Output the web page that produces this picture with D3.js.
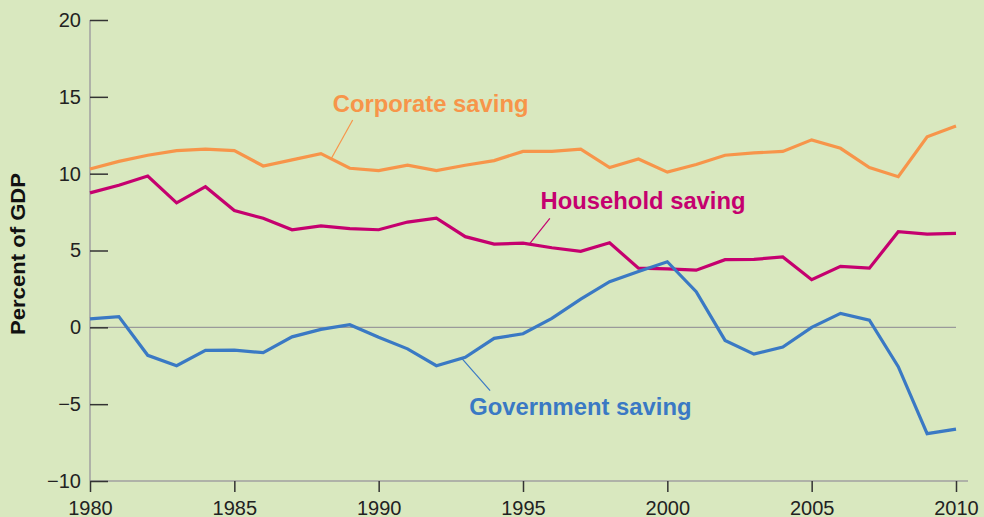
<!DOCTYPE html>
<html>
<head>
<meta charset="utf-8">
<script src="https://cdn.jsdelivr.net/npm/d3@7"></script>
<style>
  html, body { margin: 0; padding: 0; background: #D9E8BF; }
  svg { display: block; font-family: "Liberation Sans", Arial, Helvetica, sans-serif; }
</style>
</head>
<body>
<svg id="chart" width="984" height="517"></svg>
<script>
// U.S. saving by sector, percent of GDP
const years = d3.range(1980, 2011);
const corporateSaving = [10.3, 10.8, 11.2, 11.5, 11.6, 11.5, 10.5, 10.9, 11.3, 10.35, 10.2,
  10.55, 10.2, 10.55, 10.85, 11.45, 11.45, 11.6, 10.4, 10.95, 10.1,
  10.6, 11.2, 11.35, 11.45, 12.2, 11.65, 10.4, 9.8, 12.4, 13.1];
const householdSaving = [8.75, 9.25, 9.85, 8.1, 9.15, 7.6, 7.1, 6.35, 6.6, 6.42, 6.35,
  6.85, 7.1, 5.9, 5.42, 5.48, 5.18, 4.95, 5.5, 3.85, 3.8,
  3.72, 4.4, 4.42, 4.58, 3.1, 3.97, 3.85, 6.22, 6.07, 6.12];
const governmentSaving = [0.55, 0.7, -1.82, -2.5, -1.5, -1.48, -1.65, -0.62, -0.13, 0.17, -0.65,
  -1.4, -2.5, -1.95, -0.72, -0.42, 0.58, 1.84, 2.97, 3.64, 4.27,
  2.32, -0.85, -1.74, -1.28, 0.0, 0.91, 0.46, -2.56, -6.92, -6.62];

const yTicks = [-10, -5, 0, 5, 10, 15, 20];
const xTicks = [1980, 1985, 1990, 1995, 2000, 2005, 2010];

const seriesNames = ["Corporate saving", "Household saving", "Government saving"];
const seriesColors = ["#F7954A", "#C5006F", "#3A79C4"];

const svg = d3.select("#chart");
const x = d3.scaleLinear().domain([1980, 2010]).range([90, 956]);
const y = d3.scaleLinear().domain([-10, 20]).range([481, 20]);

// zero reference line
svg.append("line")
  .attr("x1", x(1980)).attr("x2", x(2010))
  .attr("y1", y(0)).attr("y2", y(0))
  .attr("stroke", "#9a9a9a").attr("stroke-width", 1.3);

// vertical axis line and bottom baseline
svg.append("line")
  .attr("x1", x(1980)).attr("x2", x(1980))
  .attr("y1", y(20)).attr("y2", y(-10))
  .attr("stroke", "#a0a0a0").attr("stroke-width", 1.5);
svg.append("line")
  .attr("x1", x(1980)).attr("x2", 968)
  .attr("y1", y(-10)).attr("y2", y(-10))
  .attr("stroke", "#a0a0a0").attr("stroke-width", 1.5);

// y axis: ticks point into the plot, labels to the left
const yAxis = svg.append("g")
  .attr("transform", `translate(${x(1980)},0)`)
  .call(d3.axisLeft(y).tickValues(yTicks).tickSize(-18).tickPadding(9)
    .tickFormat(d => d < 0 ? "\u2212" + Math.abs(d) : String(d)));
yAxis.select(".domain").remove();
yAxis.selectAll(".tick line").attr("stroke", "#333").attr("stroke-width", 1.5);
yAxis.selectAll(".tick text")
  .attr("fill", "#222").style("font-size", "20px");

// x axis
const xAxis = svg.append("g")
  .attr("transform", `translate(0,${y(-10)})`)
  .call(d3.axisBottom(x).tickValues(xTicks).tickSize(11).tickPadding(9).tickFormat(d3.format("d")));
xAxis.select(".domain").remove();
xAxis.selectAll(".tick line").attr("stroke", "#333").attr("stroke-width", 1.5);
xAxis.selectAll(".tick text")
  .attr("fill", "#222").style("font-size", "20px");

// y axis title
svg.append("text")
  .attr("transform", `translate(25,254) rotate(-90)`)
  .attr("text-anchor", "middle")
  .attr("fill", "#111")
  .style("font-size", "20.5px").style("font-weight", "bold")
  .attr("textLength", 162).attr("lengthAdjust", "spacingAndGlyphs")
  .text("Percent of GDP");

// series lines
const line = d3.line().x((d, i) => x(years[i])).y(d => y(d));
[corporateSaving, householdSaving, governmentSaving].forEach((vals, k) => {
  svg.append("path")
    .datum(vals)
    .attr("d", line)
    .attr("fill", "none")
    .attr("stroke", seriesColors[k])
    .attr("stroke-width", 3.2)
    .attr("stroke-linejoin", "miter");
});

// series labels with leader lines
const labels = [
  { text: seriesNames[0], color: seriesColors[0], at: [1988.41, 14.0], lead: [[1989.1, 13.49], [1988.35, 10.95]] },
  { text: seriesNames[1], color: seriesColors[1], at: [1995.61, 7.68], lead: [[1995.93, 7.09], [1995.24, 5.47]] },
  { text: seriesNames[2], color: seriesColors[2], at: [1993.14, -5.71], lead: [[1992.88, -2.02], [1993.86, -4.12]] }
];
labels.forEach(l => {
  svg.append("line")
    .attr("x1", x(l.lead[0][0])).attr("y1", y(l.lead[0][1]))
    .attr("x2", x(l.lead[1][0])).attr("y2", y(l.lead[1][1]))
    .attr("stroke", l.color).attr("stroke-width", 1.2);
  svg.append("text")
    .attr("x", x(l.at[0])).attr("y", y(l.at[1]))
    .attr("fill", l.color)
    .style("font-size", "23.8px").style("font-weight", "bold")
    .text(l.text);
});
</script>
</body>
</html>
